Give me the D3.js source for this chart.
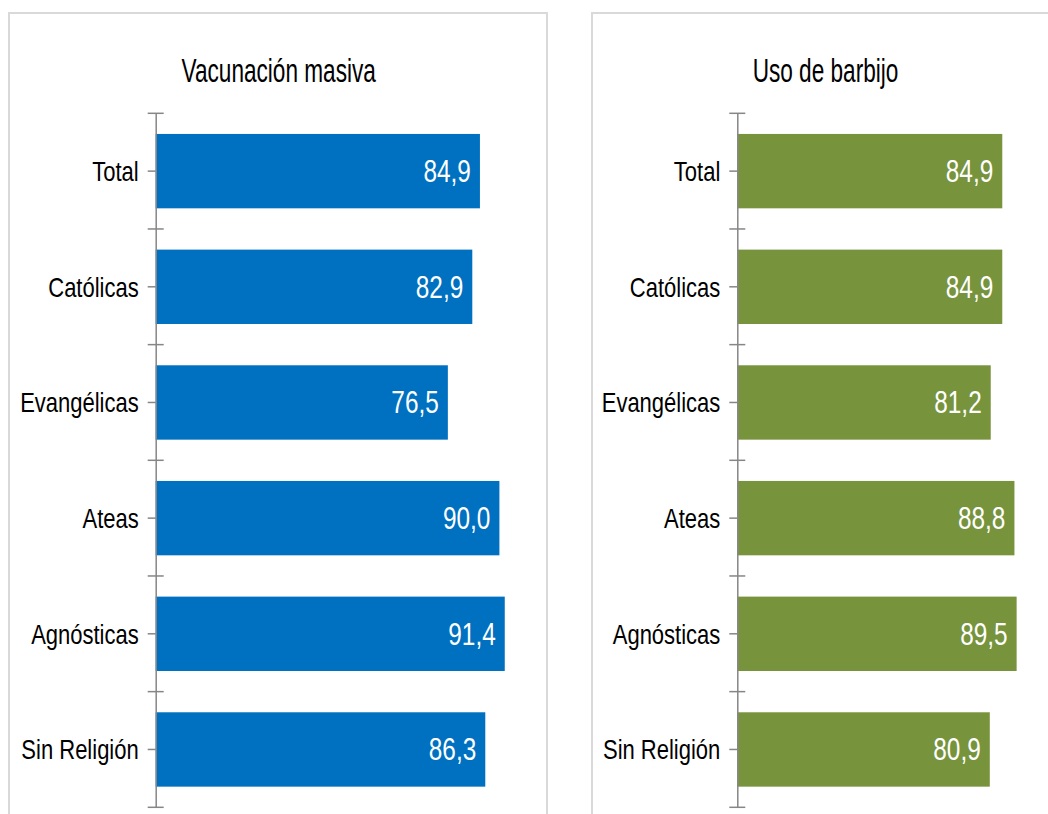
<!DOCTYPE html>
<html>
<head>
<meta charset="utf-8">
<script src="https://cdn.jsdelivr.net/npm/d3@7"></script>
<style>
  body { margin: 0; background: #fff; }
  svg { display: block; }
  .label { font-family: "Liberation Sans", Arial, sans-serif; }
</style>
</head>
<body>
<svg width="1048" height="814"></svg>
<script>
// data
const categories = ["Total", "Católicas", "Evangélicas", "Ateas", "Agnósticas", "Sin Religión"];
const vacunacion = [84.9, 82.9, 76.5, 90.0, 91.4, 86.3];
const barbijo = [84.9, 84.9, 81.2, 88.8, 89.5, 80.9];
const titles = ["Vacunación masiva", "Uso de barbijo"];

const svg = d3.select("svg");
const fmt = d3.formatLocale({ decimal: ",", thousands: ".", grouping: [3], currency: ["", ""] }).format(".1f");

const axisColor = "#868686";
// squeeze Liberation Sans into a narrow face (no narrow font installed)
const narrow = 0.8;
const titleNarrow = 0.665;

// shared band scale for the categories
const y = d3.scaleBand()
  .domain(categories)
  .range([113.3, 807.3])
  .paddingInner(0.357)
  .paddingOuter(0.1785);

function drawPanel(p) {
  // panel frame
  svg.append("rect")
    .attr("x", p.frame[0]).attr("y", 13)
    .attr("width", p.frame[1]).attr("height", 900)
    .attr("fill", "none")
    .attr("stroke", "#d9d9d9")
    .attr("stroke-width", 2);

  svg.append("text")
    .attr("class", "label")
    .attr("transform", `translate(${p.titleX},81.7) scale(${titleNarrow},1)`)
    .attr("text-anchor", "middle")
    .attr("font-size", 34)
    .attr("fill", "#000")
    .text(p.title);

  const x = d3.scaleLinear().domain([0, 100]).range(p.xRange);
  const data = categories.map((c, i) => ({ cat: c, v: p.values[i] }));

  const g = svg.append("g");

  g.selectAll(".bar")
    .data(data)
    .enter().append("rect")
    .attr("class", "bar")
    .attr("x", x(0))
    .attr("y", d => y(d.cat))
    .attr("width", d => x(d.v) - x(0))
    .attr("height", y.bandwidth())
    .attr("fill", p.color);

  g.selectAll(".val")
    .data(data)
    .enter().append("text")
    .attr("class", "label")
    .attr("transform", d => `translate(${x(d.v) - 9},${y(d.cat) + y.bandwidth() / 2}) scale(${narrow},1)`)
    .attr("dy", "0.36em")
    .attr("text-anchor", "end")
    .attr("font-size", 30.5)
    .attr("fill", "#fff")
    .text(d => fmt(d.v));

  // category axis
  const ax = g.append("g")
    .attr("transform", `translate(${x(0)},0)`)
    .call(d3.axisLeft(y).tickSize(8).tickSizeOuter(0).tickPadding(9));
  ax.select(".domain").attr("stroke", axisColor).attr("stroke-width", 1.5);
  ax.selectAll(".tick line").attr("stroke", axisColor).attr("stroke-width", 1.5);
  ax.selectAll(".tick text")
    .attr("class", "label")
    .attr("x", -17 / narrow)
    .attr("dy", "0.36em")
    .attr("transform", `scale(${narrow},1)`)
    .attr("font-size", 27.5)
    .attr("fill", "#000");

  // crossing ticks on the band boundaries
  const bounds = categories.map(c => y(c) - y.step() * y.paddingInner() / 2)
    .concat([y.range()[1]]);
  ax.selectAll(".bound")
    .data(bounds)
    .enter().append("line")
    .attr("x1", -8).attr("x2", 8)
    .attr("y1", d => d).attr("y2", d => d)
    .attr("stroke", axisColor)
    .attr("stroke-width", 1.5);
}

drawPanel({ frame: [9, 538], title: titles[0], titleX: 278.7, xRange: [155.7, 537.6], values: vacunacion, color: "#0070C0" });
drawPanel({ frame: [592, 600], title: titles[1], titleX: 825.5, xRange: [737.3, 1049.4], values: barbijo, color: "#77933C" });
</script>
</body>
</html>
